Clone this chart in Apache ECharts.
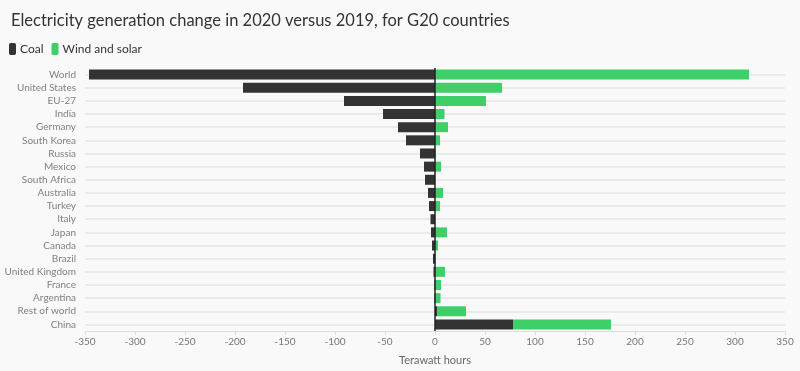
<!DOCTYPE html>
<html><head><meta charset="utf-8">
<script src="https://cdn.jsdelivr.net/npm/echarts@6/dist/echarts.min.js"></script>
<style>html,body{margin:0;padding:0;background:#f9f9f9;}#c{width:800px;height:371px;}</style>
</head><body><div id="c"></div>
<script>
const categories = ["World","United States","EU-27","India","Germany","South Korea","Russia","Mexico","South Africa","Australia","Turkey","Italy","Japan","Canada","Brazil","United Kingdom","France","Argentina","Rest of world","China"];
const coal = [-346,-192,-91,-52,-37,-29,-15,-11,-10,-7,-6,-4.5,-4,-3,-2,-1.5,-0.5,-0.5,2,78];
const windSolar = [314,67,51,9.5,13,5,0.5,6,0,8,5,0,12,3,0.5,10,6,5.5,29,98];
const xTicks = {min:-350, max:350, interval:50};

const chart = echarts.init(document.getElementById('c'));
chart.setOption({
  backgroundColor:'#f9f9f9',
  animation:false,
  title:{text:'Electricity generation change in 2020 versus 2019, for G20 countries',left:6,top:7,
    textStyle:{fontFamily:'Lato',fontSize:16.5,fontWeight:'normal',color:'#333'}},
  legend:{left:4,top:38,itemWidth:7,itemHeight:12,itemGap:8,icon:'roundRect',
    textStyle:{fontFamily:'Lato',fontSize:12,color:'#333',padding:[0,0,0,-1]},
    data:['Coal','Wind and solar']},
  grid:{left:85,right:15,top:68,bottom:38},
  xAxis:{type:'value',min:xTicks.min,max:xTicks.max,interval:xTicks.interval,
    name:'Terawatt hours',nameLocation:'middle',nameGap:24,
    nameTextStyle:{fontFamily:'Lato',fontSize:11,color:'#666'},
    axisLine:{show:true,lineStyle:{color:'#ddd'}},axisTick:{show:true,length:4,lineStyle:{color:'#ddd'}},
    axisLabel:{fontFamily:'Lato',fontSize:10,color:'#777',margin:6},
    splitLine:{show:false}},
  yAxis:{type:'category',data:categories,inverse:true,
    axisLine:{show:false},axisTick:{show:false},
    axisLabel:{fontFamily:'Lato',fontSize:10,color:'#808080',margin:9},
    splitLine:{show:true,alignWithLabel:true,lineStyle:{color:'#e4e4e4',width:1.5}}},
  series:[
    {name:'Coal',type:'bar',stack:'t',data:coal,barWidth:10,itemStyle:{color:'#333333'},
     markLine:{silent:true,symbol:'none',label:{show:false},lineStyle:{color:'#222',width:1.5,type:'solid'},data:[{xAxis:0}],z:10}},
    {name:'Wind and solar',type:'bar',stack:'t',data:windSolar,barWidth:10,itemStyle:{color:'#3fcf68'}}
  ]
});
</script></body></html>
